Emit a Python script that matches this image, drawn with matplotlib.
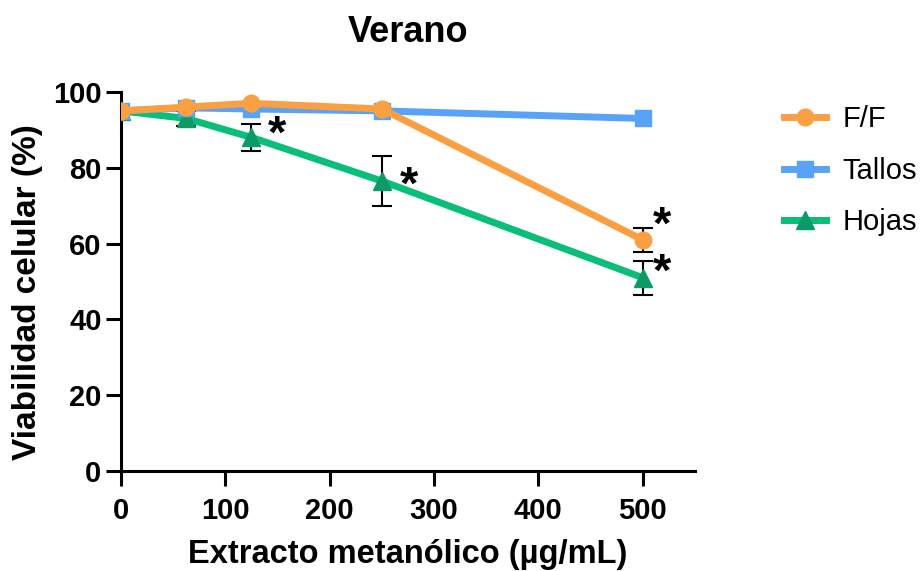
import numpy as np
import matplotlib.pyplot as plt

plt.rcParams['font.family'] = ['Liberation Sans', 'DejaVu Sans']

# concentraciones del extracto (ug/mL)
dosis = [0, 62.5, 125, 250, 500]

ff = [95, 96, 97, 95.5, 61]
ff_err = [0, 0, 0, 0, 3.2]
tallos = [95, 95.8, 95.5, 95, 93]
hojas = [95, 93, 88, 76.5, 51]
hojas_err = [0, 2, 3.6, 6.5, 4.5]

# posiciones de los asteriscos de significancia
sig_x = [150, 276, 519, 519]
sig_y = [88.5, 75, 64.5, 52]

c_ff = "#FBA042"
c_tallos = "#58A2F8"
c_hojas = "#08BE78"
c_hojas_mk = "#0C9A66"

fig = plt.figure(figsize=(9.24, 5.71), dpi=100)
ax = fig.add_axes([0.131, 0.175, 0.621, 0.664])

ax.errorbar(dosis, hojas, yerr=hojas_err, fmt='none', ecolor='black',
            elinewidth=1.5, capsize=7, capthick=1.5, zorder=2)
ax.errorbar(dosis, ff, yerr=ff_err, fmt='none', ecolor='black',
            elinewidth=1.5, capsize=7, capthick=1.5, zorder=2)

ax.plot(dosis, hojas, color=c_hojas, lw=5, marker='^', ms=13,
        mfc=c_hojas_mk, mec=c_hojas_mk, label='Hojas', zorder=3)
ax.plot(dosis, tallos, color=c_tallos, lw=5, marker='s', ms=11,
        mfc=c_tallos, mec=c_tallos, label='Tallos', zorder=4)
ax.plot(dosis, ff, color=c_ff, lw=5, marker='o', ms=12,
        mfc=c_ff, mec=c_ff, label='F/F', zorder=5)

for x, y in zip(sig_x, sig_y):
    ax.text(x, y, "*", fontsize=34, fontweight='bold', ha='center', va='center')

ax.set_xlim(0, 550)
ax.set_ylim(0, 100)
ax.set_xticks([0, 100, 200, 300, 400, 500])
ax.set_yticks([0, 20, 40, 60, 80, 100])
ax.spines['top'].set_visible(False)
ax.spines['right'].set_visible(False)
ax.spines['left'].set_linewidth(2.2)
ax.spines['bottom'].set_linewidth(2.2)
ax.tick_params(width=2.2, length=11, labelsize=21)
ax.tick_params(axis='x', pad=8)
ax.tick_params(axis='y', pad=3)
for lbl in ax.get_xticklabels() + ax.get_yticklabels():
    lbl.set_fontweight('bold')

ax.set_title("Verano", fontsize=26, fontweight='bold', pad=36)
ax.set_xlabel("Extracto metanólico (µg/mL)", fontsize=23.5, fontweight='bold', labelpad=10)
ax.set_ylabel("Viabilidad celular (%)", fontsize=24, fontweight='bold')
ax.yaxis.set_label_coords(-0.136, 0.472)

h, l = ax.get_legend_handles_labels()
ax.legend(h[::-1], l[::-1], loc='upper left', bbox_to_anchor=(1.135, 0.995),
          frameon=False, fontsize=21, handlelength=1.45, labelspacing=0.8,
          handletextpad=0.55, borderaxespad=0)

fig.savefig("out.png", dpi=100)
